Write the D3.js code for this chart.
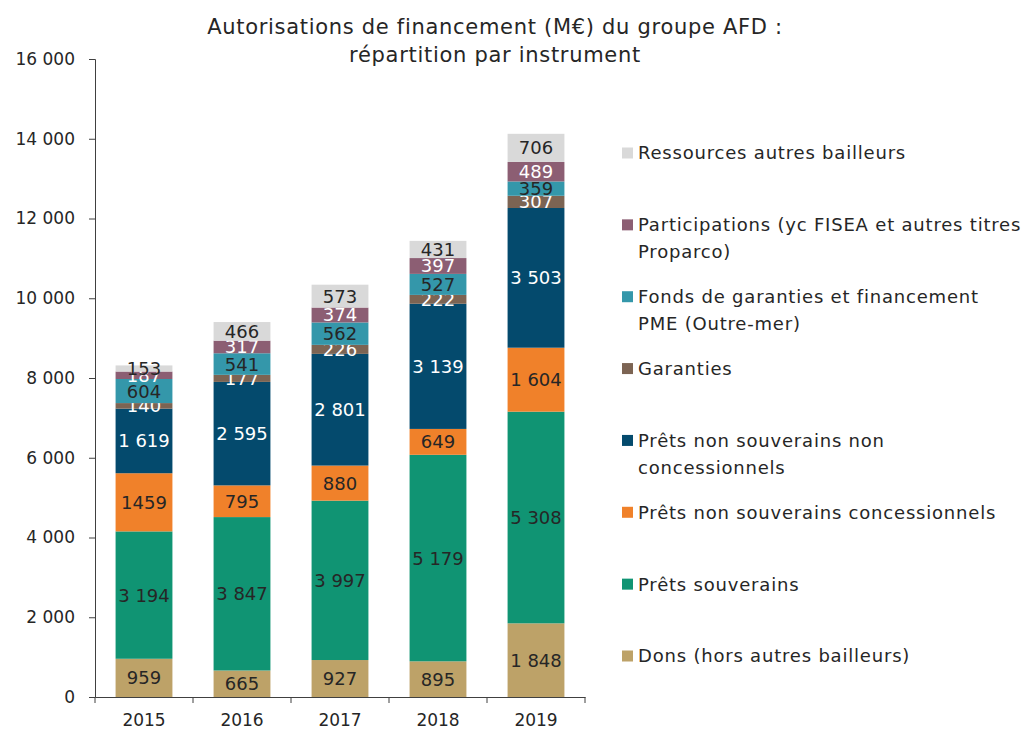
<!DOCTYPE html>
<html>
<head>
<meta charset="utf-8">
<script src="https://cdn.jsdelivr.net/npm/d3@7"></script>
<style>
  body { margin: 0; background: #fff; }
  svg text { font-family: "DejaVu Sans", sans-serif; fill: #262626; }
</style>
</head>
<body>
<svg id="chart" width="1027" height="729"></svg>
<script>
// data
const years = ["2015", "2016", "2017", "2018", "2019"];
const dons = [959, 665, 927, 895, 1848];
const pretsSouverains = [3194, 3847, 3997, 5179, 5308];
const pretsNSC = [1459, 795, 880, 649, 1604];
const pretsNSNC = [1619, 2595, 2801, 3139, 3503];
const garanties = [140, 177, 226, 222, 307];
const fondsPME = [604, 541, 562, 527, 359];
const participations = [187, 317, 374, 397, 489];
const ressources = [153, 466, 573, 431, 706];
const yTicks = [0, 2000, 4000, 6000, 8000, 10000, 12000, 14000, 16000];

// series from bottom to top
const series = [
  { key: "dons", name: ["Dons (hors autres bailleurs)"], values: dons, color: "#bda268", label: "#262626" },
  { key: "ps", name: ["Prêts souverains"], values: pretsSouverains, color: "#109473", label: "#262626" },
  { key: "pnsc", name: ["Prêts non souverains concessionnels"], values: pretsNSC, color: "#f0812a", label: "#262626" },
  { key: "pnsnc", name: ["Prêts non souverains non", "concessionnels"], values: pretsNSNC, color: "#044a6d", label: "#ffffff" },
  { key: "gar", name: ["Garanties"], values: garanties, color: "#7c6453", label: "#ffffff" },
  { key: "fonds", name: ["Fonds de garanties et financement", "PME (Outre-mer)"], values: fondsPME, color: "#3497aa", label: "#262626" },
  { key: "part", name: ["Participations (yc FISEA et autres titres", "Proparco)"], values: participations, color: "#8c5e73", label: "#ffffff" },
  { key: "res", name: ["Ressources autres bailleurs"], values: ressources, color: "#d9d9d9", label: "#262626" }
];

// the 2015 concessional label has no thousands space in the source
const noSpaceLabels = { "pnsc-2015": true };

const svg = d3.select("#chart");
const fmt = v => d3.format(",")(v).replace(/,/g, " ");

const x = d3.scaleBand().domain(years).range([95, 585]).paddingInner(0.42).paddingOuter(0.21);
const y = d3.scaleLinear().domain([0, 16000]).range([697, 59]);

const table = years.map((yr, i) => {
  const row = { year: yr };
  series.forEach(s => row[s.key] = s.values[i]);
  return row;
});
const stacked = d3.stack().keys(series.map(s => s.key))(table);

// title
svg.append("text").attr("x", 495).attr("y", 34).attr("text-anchor", "middle")
  .style("font-size", "21px").style("letter-spacing", "0.7px")
  .text("Autorisations de financement (M€) du groupe AFD :");
svg.append("text").attr("x", 495).attr("y", 62).attr("text-anchor", "middle")
  .style("font-size", "21px").style("letter-spacing", "0.7px")
  .text("répartition par instrument");

// bars
stacked.forEach((layer, li) => {
  const s = series[li];
  const g = svg.append("g");
  g.selectAll("rect").data(layer).enter().append("rect")
    .attr("x", d => x(d.data.year))
    .attr("width", x.bandwidth())
    .attr("y", d => y(d[1]))
    .attr("height", d => y(d[0]) - y(d[1]))
    .attr("fill", s.color);
  g.selectAll("text").data(layer).enter().append("text")
    .attr("x", d => x(d.data.year) + x.bandwidth() / 2)
    .attr("y", d => (y(d[0]) + y(d[1])) / 2)
    .attr("dy", "0.36em")
    .attr("text-anchor", "middle")
    .style("font-size", "18px")
    .style("fill", s.label)
    .text(d => {
      const v = d[1] - d[0];
      return noSpaceLabels[s.key + "-" + d.data.year] ? String(v) : fmt(v);
    });
});

// y axis
const yAxis = svg.append("g").attr("transform", "translate(95,0)")
  .call(d3.axisLeft(y).tickValues(yTicks).tickSize(6).tickPadding(14).tickFormat(fmt));
yAxis.select(".domain").attr("stroke", "#404040");
yAxis.selectAll(".tick line").attr("stroke", "#404040");
yAxis.selectAll(".tick text").style("font-size", "17px").style("font-family", "DejaVu Sans").attr("fill", "#262626");

// x axis with ticks on the category boundaries
const xAxis = svg.append("g").attr("transform", "translate(0,697)")
  .call(d3.axisBottom(x).tickSize(0).tickPadding(17));
xAxis.select(".domain").attr("stroke", "#404040");
xAxis.selectAll(".tick text").style("font-size", "17px").style("font-family", "DejaVu Sans").attr("fill", "#262626");
const step = x.step();
const edges = years.map(yr => x(yr) - step * x.paddingInner() / 2).concat([x(years[years.length - 1]) + x.bandwidth() + step * x.paddingInner() / 2]);
xAxis.selectAll("line.edge").data(edges).enter().append("line")
  .attr("class", "edge")
  .attr("x1", d => d).attr("x2", d => d)
  .attr("y1", 0).attr("y2", 6)
  .attr("stroke", "#404040");

// legend, top entry = top of the stack
const legend = svg.append("g").attr("transform", "translate(622,0)");
const legendY = d3.scalePoint().domain(series.slice().reverse().map(s => s.key)).range([153, 656]);
series.slice().reverse().forEach(s => {
  const cy = legendY(s.key);
  legend.append("rect").attr("x", 0).attr("y", cy - 5.5).attr("width", 11).attr("height", 11).attr("fill", s.color);
  s.name.forEach((line, k) => {
    legend.append("text").attr("x", 16).attr("y", cy + k * 27).attr("dy", "0.36em")
      .style("font-size", "18px").style("letter-spacing", "0.8px").text(line);
  });
});
</script>
</body>
</html>
